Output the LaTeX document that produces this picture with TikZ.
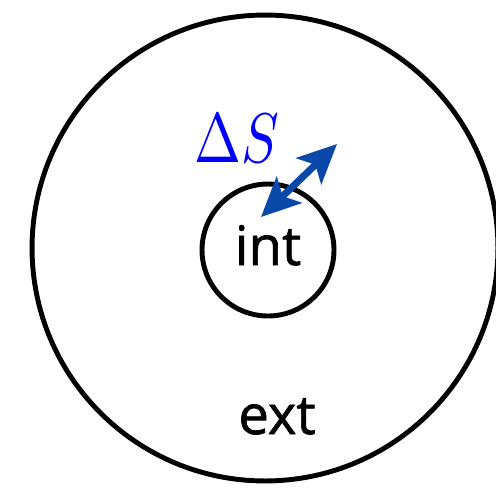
\documentclass[tikz,border=0pt]{standalone}
\usepackage{amsmath}
\usepackage{fontspec}
\setsansfont{Open Sans}[FakeBold=1.2]
\usepackage{tikz}
\usetikzlibrary{arrows.meta}
\definecolor{arrowblue}{RGB}{10,72,170}
\tikzset{
  every picture/.style={line join=round, line cap=round, >=Stealth},
  region/.style={draw, circle, line width=2.8pt, inner sep=0pt},
  regionlabel/.style={font=\sffamily\fontsize{31}{36}\selectfont, inner sep=0pt},
  flux/.style={arrowblue, line width=4pt,
    {Stealth[length=0.78cm,width=0.72cm,inset=0.18cm]}-{Stealth[length=0.78cm,width=0.72cm,inset=0.18cm]}},
}

\begin{document}
\begin{tikzpicture}[x=0.02cm,y=0.02cm]
\useasboundingbox(0,0)rectangle(496,488);
\node[region,minimum size=9.32cm](ext)at(265,240){};
\node[region,minimum size=2.64cm](int)at(268,238){};
\node[regionlabel,anchor=base](intlabel)at(268,223){int};
\node[regionlabel,anchor=base](extlabel)at(277,54){ext};
\node[text=blue,inner sep=0pt,anchor=base](dS)at(236.5,326)
  {\scalebox{3.2}[4.0]{$\Delta S$}};
\coordinate(inside)at(261,271);
\coordinate(outside)at(337,344);
\draw[flux](inside)--(outside);
\end{tikzpicture}
\end{document}
